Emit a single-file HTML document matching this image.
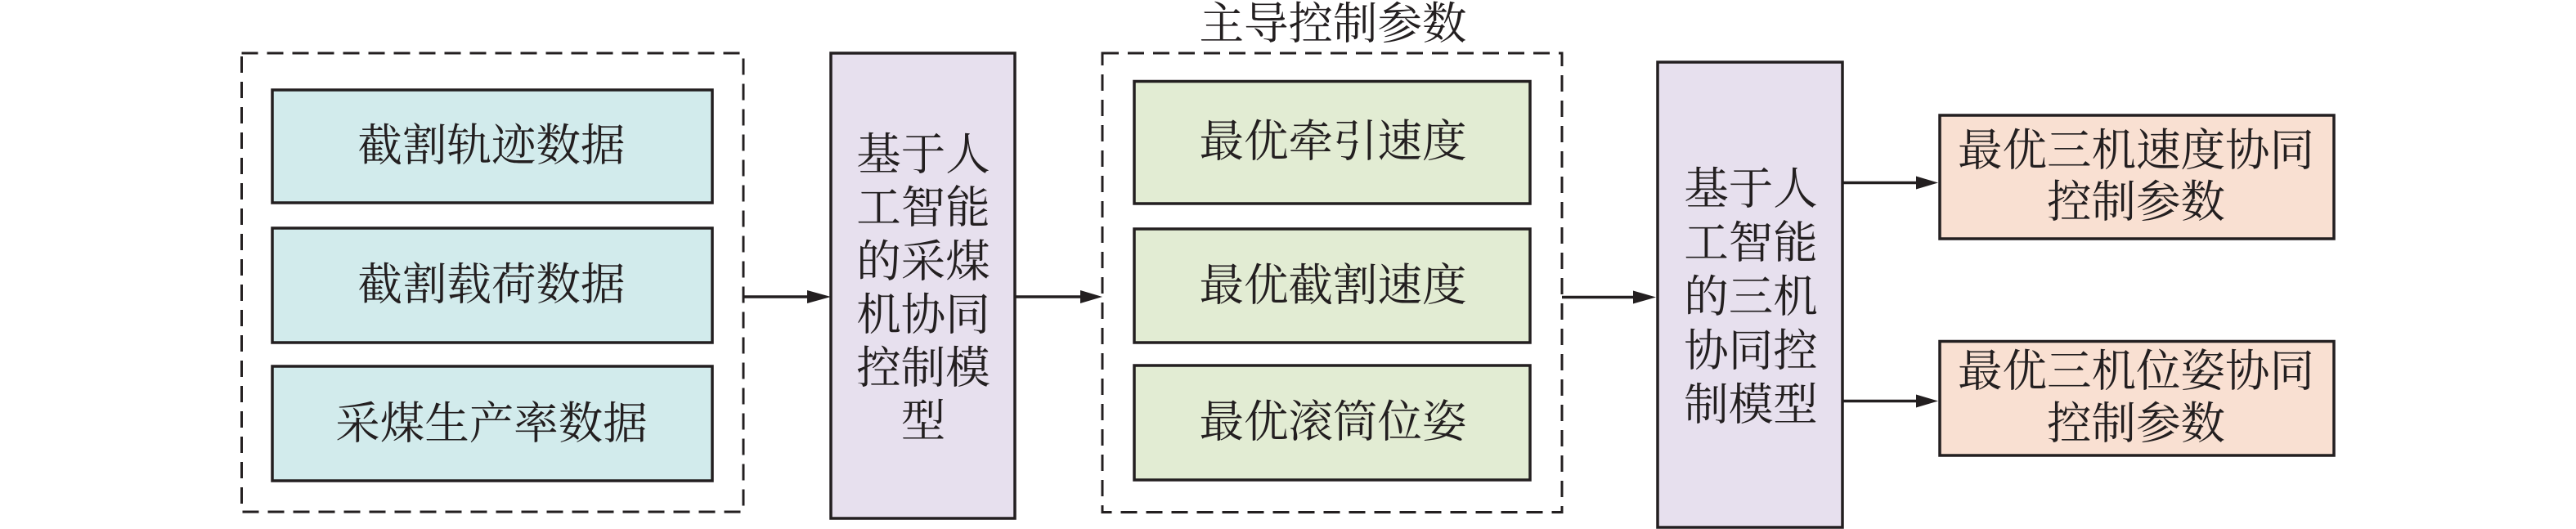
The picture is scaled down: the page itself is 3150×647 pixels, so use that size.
<!DOCTYPE html>
<html lang="zh">
<head>
<meta charset="utf-8">
<style>
html,body{margin:0;padding:0;background:#fff;width:3150px;height:647px;overflow:hidden}
svg{display:block}
text{font-family:"Liberation Serif","Noto Serif CJK SC",serif;font-size:54.5px;font-weight:400;fill:#231f20;text-anchor:middle;dominant-baseline:central}
.b{stroke:#231f20;stroke-width:3.5}
.d{fill:none;stroke:#231f20;stroke-width:3;stroke-dasharray:20 11}
.l{stroke:#231f20;stroke-width:3.5;fill:none}
.h{fill:#231f20}
</style>
</head>
<body>
<svg width="3150" height="647" viewBox="0 0 3150 647" xmlns="http://www.w3.org/2000/svg">
<rect class="d" x="295.5" y="65" width="613.5" height="561"/>
<rect class="b" fill="#d2ebec" x="333" y="110" width="538" height="138"/>
<rect class="b" fill="#d2ebec" x="333" y="279" width="538" height="140"/>
<rect class="b" fill="#d2ebec" x="333" y="448" width="538" height="140"/>
<text x="601" y="178">截割轨迹数据</text>
<text x="601" y="348">截割载荷数据</text>
<text x="601" y="518">采煤生产率数据</text>

<rect class="b" fill="#e7e0ee" x="1016" y="65" width="225" height="569"/>
<text x="1129" y="189">基于人</text>
<text x="1129" y="254">工智能</text>
<text x="1129" y="320">的采煤</text>
<text x="1129" y="385">机协同</text>
<text x="1129" y="450">控制模</text>
<text x="1129" y="515">型</text>

<text x="1630" y="29">主导控制参数</text>
<rect class="d" x="1348" y="65" width="562" height="561.5"/>
<rect class="b" fill="#e2ecd3" x="1387" y="99.5" width="484" height="149.5"/>
<rect class="b" fill="#e2ecd3" x="1387" y="280" width="484" height="139"/>
<rect class="b" fill="#e2ecd3" x="1387" y="447" width="484" height="140"/>
<text x="1630" y="173">最优牵引速度</text>
<text x="1630" y="349">最优截割速度</text>
<text x="1630" y="516">最优滚筒位姿</text>

<rect class="b" fill="#e7e0ee" x="2027" y="76" width="226" height="569"/>
<text x="2141" y="231">基于人</text>
<text x="2141" y="297">工智能</text>
<text x="2141" y="363">的三机</text>
<text x="2141" y="429">协同控</text>
<text x="2141" y="495">制模型</text>

<rect class="b" fill="#f9e0d2" x="2372" y="141" width="482" height="151"/>
<rect class="b" fill="#f9e0d2" x="2372" y="417.5" width="482" height="139.5"/>
<text x="2612" y="184">最优三机速度协同</text>
<text x="2612" y="247">控制参数</text>
<text x="2612" y="454">最优三机位姿协同</text>
<text x="2612" y="518">控制参数</text>

<line class="l" x1="909" y1="363" x2="990" y2="363"/>
<polygon class="h" points="987,355 1016,363 987,371"/>
<line class="l" x1="1241" y1="363" x2="1324" y2="363"/>
<polygon class="h" points="1321,355 1348,363 1321,371"/>
<line class="l" x1="1910" y1="363.5" x2="1999" y2="363.5"/>
<polygon class="h" points="1997,355.5 2025,363.5 1997,371.5"/>
<line class="l" x1="2253" y1="223.5" x2="2346" y2="223.5"/>
<polygon class="h" points="2343,215.5 2370,223.5 2343,231.5"/>
<line class="l" x1="2253" y1="490.5" x2="2346" y2="490.5"/>
<polygon class="h" points="2343,482.5 2370,490.5 2343,498.5"/>
</svg>
</body>
</html>
